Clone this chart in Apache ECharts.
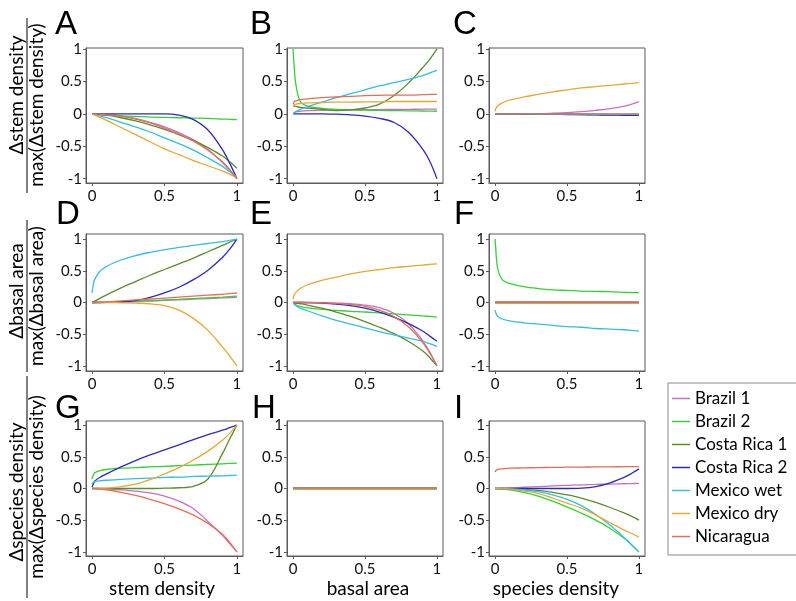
<!DOCTYPE html>
<html>
<head>
<meta charset="utf-8">
<script src="https://cdn.jsdelivr.net/npm/echarts@6.0.0/dist/echarts.min.js"></script>
<style>
  html, body { margin: 0; padding: 0; background: #fff; }
  #chart { width: 796px; height: 601px; }
</style>
</head>
<body>
<div id="chart"></div>
<script>
// x positions shared by every curve (normalised predictor, 0..1)
const xs = [0, 0.005, 0.01, 0.02, 0.05, 0.1, 0.2, 0.3, 0.4, 0.5, 0.6, 0.7, 0.8, 0.9, 0.95, 1]

const sites = ['Brazil 1', 'Brazil 2', 'Costa Rica 1', 'Costa Rica 2', 'Mexico wet', 'Mexico dry', 'Nicaragua']
const siteColors = ['#c66fc6', '#36d036', '#5a8c2c', '#2b2bb8', '#35bde0', '#e6a735', '#e0705a']

const xTicks = [0, 0.5, 1]
const yTicks = [-1, -0.5, 0, 0.5, 1]

const xTitles = ['stem density', 'basal area', 'species density']
const yTitleTop = ['\u0394stem density', '\u0394basal area', '\u0394species density']
const yTitleBottom = ['max(\u0394stem density)', 'max(\u0394basal area)', 'max(\u0394species density)']
const panelLetters = ['A', 'B', 'C', 'D', 'E', 'F', 'G', 'H', 'I']

// one row per site, in the order of `sites`
const panelA = [
  [0, 0, 0, 0, -0.005, -0.01, -0.03, -0.07, -0.13, -0.2, -0.29, -0.4, -0.55, -0.75, -0.87, -1],
  [0, 0, 0, -0.005, -0.01, -0.02, -0.03, -0.04, -0.05, -0.055, -0.06, -0.065, -0.07, -0.08, -0.085, -0.09],
  [0, 0, 0, 0, -0.01, -0.02, -0.06, -0.11, -0.17, -0.24, -0.32, -0.41, -0.52, -0.65, -0.74, -0.84],
  [0, 0, 0, 0, 0, 0, 0, 0, 0, 0, -0.02, -0.09, -0.25, -0.55, -0.76, -1],
  [0, 0, -0.005, -0.01, -0.03, -0.06, -0.13, -0.2, -0.28, -0.37, -0.46, -0.56, -0.68, -0.81, -0.89, -0.98],
  [0, -0.005, -0.01, -0.02, -0.05, -0.1, -0.21, -0.32, -0.43, -0.54, -0.63, -0.72, -0.8, -0.88, -0.93, -0.99],
  [0, 0, 0, 0, -0.005, -0.015, -0.04, -0.08, -0.14, -0.22, -0.31, -0.42, -0.56, -0.74, -0.86, -1]
]
const panelB = [
  [0, 0.01, 0.02, 0.03, 0.04, 0.05, 0.055, 0.06, 0.062, 0.064, 0.066, 0.068, 0.07, 0.072, 0.073, 0.074],
  [1, 0.82, 0.66, 0.45, 0.19, 0.12, 0.085, 0.07, 0.062, 0.056, 0.052, 0.05, 0.047, 0.044, 0.042, 0.04],
  [0.12, 0.12, 0.12, 0.115, 0.1, 0.09, 0.07, 0.05, 0.06, 0.09, 0.15, 0.28, 0.47, 0.71, 0.84, 1],
  [0, 0, 0, 0, 0, 0, 0, -0.005, -0.015, -0.035, -0.07, -0.13, -0.28, -0.54, -0.73, -1],
  [0, 0.01, 0.02, 0.035, 0.07, 0.11, 0.18, 0.25, 0.31, 0.37, 0.43, 0.48, 0.53, 0.59, 0.63, 0.67],
  [0.12, 0.13, 0.14, 0.15, 0.16, 0.17, 0.175, 0.18, 0.18, 0.185, 0.185, 0.19, 0.19, 0.19, 0.19, 0.19],
  [0.15, 0.17, 0.19, 0.2, 0.22, 0.23, 0.25, 0.26, 0.27, 0.28, 0.285, 0.29, 0.29, 0.295, 0.3, 0.3]
]
const panelC = [
  [0, 0, 0, 0, 0, 0, 0, 0.002, 0.01, 0.02, 0.035, 0.055, 0.08, 0.12, 0.15, 0.19],
  [0, 0, 0, 0, 0, 0, 0, -0.002, -0.003, -0.004, -0.005, -0.006, -0.007, -0.008, -0.009, -0.01],
  [0, 0, 0, 0, 0, 0, -0.002, -0.004, -0.006, -0.008, -0.01, -0.011, -0.012, -0.013, -0.014, -0.015],
  [0, 0, 0, 0, 0, 0, -0.002, -0.005, -0.008, -0.01, -0.013, -0.016, -0.019, -0.022, -0.024, -0.025],
  [0, 0, 0, 0, 0, 0, 0, -0.002, -0.003, -0.004, -0.005, -0.006, -0.007, -0.008, -0.009, -0.01],
  [0.04, 0.08, 0.1, 0.13, 0.17, 0.21, 0.26, 0.3, 0.34, 0.37, 0.4, 0.42, 0.44, 0.46, 0.47, 0.48],
  [0, 0, 0, 0, 0, 0, 0, 0, 0, 0, 0, 0, 0, 0, 0, 0]
]
const panelD = [
  [0, 0, 0, 0, 0, 0.002, 0.008, 0.015, 0.023, 0.032, 0.042, 0.052, 0.062, 0.072, 0.077, 0.082],
  [0, 0, 0, 0, 0.002, 0.005, 0.012, 0.02, 0.03, 0.04, 0.05, 0.062, 0.074, 0.086, 0.093, 0.1],
  [0, 0.008, 0.015, 0.025, 0.06, 0.12, 0.23, 0.33, 0.43, 0.52, 0.61, 0.7, 0.8, 0.9, 0.95, 1],
  [0, 0, 0, 0, 0, 0.002, 0.01, 0.03, 0.08, 0.15, 0.24, 0.36, 0.51, 0.71, 0.84, 1],
  [0.15, 0.24, 0.3, 0.37, 0.48, 0.57, 0.67, 0.74, 0.79, 0.83, 0.87, 0.9, 0.93, 0.96, 0.98, 1],
  [0, 0, 0, 0, 0, 0, -0.005, -0.01, -0.02, -0.05, -0.12, -0.25, -0.44, -0.7, -0.84, -1],
  [0, 0, 0, 0.002, 0.005, 0.01, 0.025, 0.04, 0.055, 0.07, 0.085, 0.1, 0.115, 0.13, 0.14, 0.15]
]
const panelE = [
  [0, 0, 0, 0, 0, 0, -0.003, -0.01, -0.02, -0.04, -0.08, -0.17, -0.33, -0.6, -0.78, -1],
  [0, -0.01, -0.02, -0.035, -0.06, -0.085, -0.11, -0.125, -0.14, -0.15, -0.165, -0.18, -0.195, -0.21, -0.22, -0.23],
  [0, 0, -0.005, -0.01, -0.02, -0.04, -0.09, -0.15, -0.22, -0.3, -0.39, -0.49, -0.61, -0.76, -0.87, -1],
  [0, 0, 0, 0, 0, -0.002, -0.01, -0.025, -0.05, -0.09, -0.15, -0.23, -0.33, -0.45, -0.53, -0.61],
  [0, -0.02, -0.03, -0.05, -0.09, -0.13, -0.21, -0.28, -0.34, -0.4, -0.46, -0.51, -0.56, -0.61, -0.65, -0.69],
  [0.05, 0.1, 0.13, 0.16, 0.22, 0.28, 0.35, 0.4, 0.45, 0.49, 0.52, 0.55, 0.57, 0.59, 0.6, 0.61],
  [0, 0, 0, 0, 0, 0, -0.005, -0.015, -0.03, -0.06, -0.12, -0.22, -0.38, -0.63, -0.8, -1]
]
const panelF = [
  [0, 0, 0, 0, 0, 0, 0, 0, 0, 0, 0, 0, 0, 0, 0, 0],
  [1, 0.85, 0.68, 0.52, 0.36, 0.3, 0.25, 0.22, 0.2, 0.19, 0.18, 0.175, 0.17, 0.16, 0.157, 0.155],
  [0, 0, 0, 0, 0, 0, 0, 0, 0, 0, 0, 0, 0, 0, 0, 0],
  [0, 0, 0, 0, 0, 0, 0, 0, 0, 0, 0, 0, 0, 0, 0, 0],
  [-0.12, -0.16, -0.19, -0.22, -0.26, -0.29, -0.32, -0.34, -0.36, -0.38, -0.39, -0.41, -0.42, -0.43, -0.44, -0.45],
  [-0.01, -0.01, -0.01, -0.01, -0.01, -0.01, -0.01, -0.01, -0.01, -0.01, -0.01, -0.01, -0.01, -0.01, -0.01, -0.01],
  [0.006, 0.006, 0.006, 0.006, 0.006, 0.006, 0.006, 0.006, 0.006, 0.006, 0.006, 0.006, 0.006, 0.006, 0.006, 0.006]
]
const panelG = [
  [0, 0, 0, 0, 0, -0.005, -0.02, -0.04, -0.07, -0.12, -0.2, -0.32, -0.52, -0.74, -0.87, -1],
  [0.15, 0.19, 0.22, 0.25, 0.28, 0.3, 0.32, 0.33, 0.34, 0.35, 0.36, 0.37, 0.38, 0.39, 0.395, 0.4],
  [0, 0, 0, 0, 0, 0, 0, 0, 0, 0.005, 0.012, 0.035, 0.15, 0.55, 0.78, 1],
  [0.02, 0.05, 0.08, 0.12, 0.17, 0.23, 0.34, 0.44, 0.53, 0.61, 0.69, 0.77, 0.85, 0.92, 0.96, 1],
  [0.07, 0.09, 0.1, 0.11, 0.12, 0.13, 0.145, 0.155, 0.165, 0.175, 0.18, 0.19, 0.195, 0.2, 0.205, 0.21],
  [0, 0, 0, 0, 0.002, 0.005, 0.03, 0.07, 0.14, 0.23, 0.33, 0.45, 0.59, 0.76, 0.87, 1],
  [0, 0, 0, -0.002, -0.01, -0.02, -0.06, -0.11, -0.17, -0.24, -0.32, -0.42, -0.55, -0.72, -0.85, -1]
]
const panelH = [
  [0, 0, 0, 0, 0, 0, 0, 0, 0, 0, 0, 0, 0, 0, 0, 0],
  [0.005, 0.005, 0.005, 0.005, 0.005, 0.005, 0.005, 0.005, 0.005, 0.005, 0.005, 0.005, 0.005, 0.005, 0.005, 0.005],
  [0, 0, 0, 0, 0, 0, 0, 0, 0, 0, 0, 0, 0, 0, 0, 0],
  [0, 0, 0, 0, 0, 0, 0, 0, 0, 0, 0, 0, 0, 0, 0, 0],
  [0, 0, 0, 0, 0, 0, 0, 0, 0, 0, 0, 0, 0, 0, 0, 0],
  [-0.01, -0.01, -0.01, -0.01, -0.01, -0.01, -0.01, -0.01, -0.01, -0.01, -0.01, -0.01, -0.01, -0.01, -0.01, -0.01],
  [0.006, 0.006, 0.006, 0.006, 0.006, 0.006, 0.006, 0.006, 0.006, 0.006, 0.006, 0.006, 0.006, 0.006, 0.006, 0.006]
]
const panelI = [
  [0, 0, 0.001, 0.002, 0.005, 0.01, 0.02, 0.03, 0.04, 0.05, 0.058, 0.064, 0.07, 0.075, 0.078, 0.08],
  [0, 0, -0.002, -0.005, -0.01, -0.02, -0.06, -0.12, -0.2, -0.29, -0.39, -0.5, -0.63, -0.79, -0.89, -1],
  [0, 0, 0, 0, 0, -0.005, -0.015, -0.03, -0.06, -0.1, -0.15, -0.22, -0.3, -0.39, -0.44, -0.5],
  [0, 0, 0, 0, 0, 0, 0, 0, 0, 0, 0.005, 0.03, 0.09, 0.18, 0.24, 0.31],
  [0, 0, 0, 0, 0, -0.005, -0.02, -0.05, -0.1, -0.17, -0.27, -0.41, -0.58, -0.78, -0.89, -1],
  [0, 0, 0, 0, -0.005, -0.01, -0.04, -0.08, -0.15, -0.23, -0.31, -0.42, -0.54, -0.66, -0.71, -0.77],
  [0.26, 0.28, 0.29, 0.3, 0.31, 0.32, 0.325, 0.33, 0.333, 0.336, 0.338, 0.34, 0.342, 0.344, 0.345, 0.346]
]
const panels = [panelA, panelB, panelC, panelD, panelE, panelF, panelG, panelH, panelI]

// layout of the 3x3 grid (pixels)
const cols = [{ left: 86, width: 157 }, { left: 287, width: 156 }, { left: 489, width: 156 }]
const rows = [
  { top: 48, height: 135, yMin: -1.066, yMax: 1.015 },
  { top: 234, height: 137, yMin: -1.08, yMax: 1.08 },
  { top: 421, height: 135, yMin: -1.065, yMax: 1.065 }
]
const X_MIN = -0.042
const X_MAX = 1.042

const FONT = 'Lato, "Open Sans", sans-serif'
const AXIS_COLOR = '#5a5a5a'

const grids = []
const xAxes = []
const yAxes = []
const series = []

panels.forEach((panel, p) => {
  const r = Math.floor(p / 3)
  const c = p % 3
  grids.push({
    left: cols[c].left, width: cols[c].width,
    top: rows[r].top, height: rows[r].height,
    show: true, borderColor: AXIS_COLOR, borderWidth: 1, backgroundColor: 'transparent'
  })
  xAxes.push({
    type: 'value', gridIndex: p, min: X_MIN, max: X_MAX,
    axisLine: { show: true, onZero: false, lineStyle: { color: AXIS_COLOR } },
    axisTick: { show: true, length: 3, customValues: xTicks, lineStyle: { color: AXIS_COLOR } },
    axisLabel: { customValues: xTicks, fontSize: 15, color: '#111', margin: 6, fontFamily: FONT },
    splitLine: { show: false }
  })
  yAxes.push({
    type: 'value', gridIndex: p, min: rows[r].yMin, max: rows[r].yMax,
    axisLine: { show: true, onZero: false, lineStyle: { color: AXIS_COLOR } },
    axisTick: { show: true, length: 3, customValues: yTicks, lineStyle: { color: AXIS_COLOR } },
    axisLabel: { customValues: yTicks, fontSize: 15, color: '#111', margin: 4, fontFamily: FONT },
    splitLine: { show: false }
  })
  panel.forEach((vals, s) => {
    series.push({
      type: 'line',
      name: sites[s],
      xAxisIndex: p,
      yAxisIndex: p,
      data: xs.map((x, i) => [x, vals[i]]),
      symbol: 'none',
      smooth: 0.35,
      color: siteColors[s],
      lineStyle: { width: 1.3, color: siteColors[s] },
      silent: true
    })
  })
})

// panel letters, axis titles, fraction bars
const graphics = []
const letterPos = [[55, 25], [250, 25], [453, 25], [56, 215], [250, 215], [454, 215], [55, 409], [252, 409], [454, 409]]
panelLetters.forEach((t, i) => {
  graphics.push({
    type: 'text', x: letterPos[i][0], y: letterPos[i][1],
    style: { text: t, font: '33px "Liberation Sans", Arial, sans-serif', fill: '#000', align: 'left', verticalAlign: 'middle' }
  })
})

const titleCenters = [[162, 589], [368, 589], [556, 589]]
xTitles.forEach((t, i) => {
  graphics.push({
    type: 'text', x: titleCenters[i][0], y: titleCenters[i][1],
    style: { text: t, font: '19px ' + FONT, fill: '#000', align: 'center', verticalAlign: 'middle' }
  })
})

const fracPos = [
  { top: 95, bottom: 105, bar: [18, 193] },
  { top: 291, bottom: 296, bar: [220, 372] },
  { top: 492, bottom: 487, bar: [376, 598] }
]
fracPos.forEach((f, i) => {
  graphics.push({
    type: 'text', x: 16.5, y: f.top, rotation: Math.PI / 2,
    style: { text: yTitleTop[i], font: '19px ' + FONT, fill: '#000', align: 'center', verticalAlign: 'middle' }
  })
  graphics.push({
    type: 'text', x: 36.5, y: f.bottom, rotation: Math.PI / 2,
    style: { text: yTitleBottom[i], font: '19px ' + FONT, fill: '#000', align: 'center', verticalAlign: 'middle' }
  })
  graphics.push({
    type: 'line', shape: { x1: 27, y1: f.bar[0], x2: 27, y2: f.bar[1] },
    style: { stroke: '#000', lineWidth: 1 }
  })
})

const chart = echarts.init(document.getElementById('chart'), null, { renderer: 'canvas' })
chart.setOption({
  animation: false,
  backgroundColor: '#fff',
  grid: grids,
  xAxis: xAxes,
  yAxis: yAxes,
  series: series,
  legend: {
    data: sites,
    orient: 'vertical',
    left: 668,
    top: 383,
    icon: 'rect',
    itemWidth: 18,
    itemHeight: 1.5,
    itemGap: 6,
    padding: [7, 10, 10, 4],
    borderColor: '#8a8a8a',
    borderWidth: 1,
    backgroundColor: '#fff',
    selectedMode: false,
    textStyle: { fontSize: 17, color: '#000', fontFamily: FONT }
  },
  graphic: graphics
})
</script>
</body>
</html>
